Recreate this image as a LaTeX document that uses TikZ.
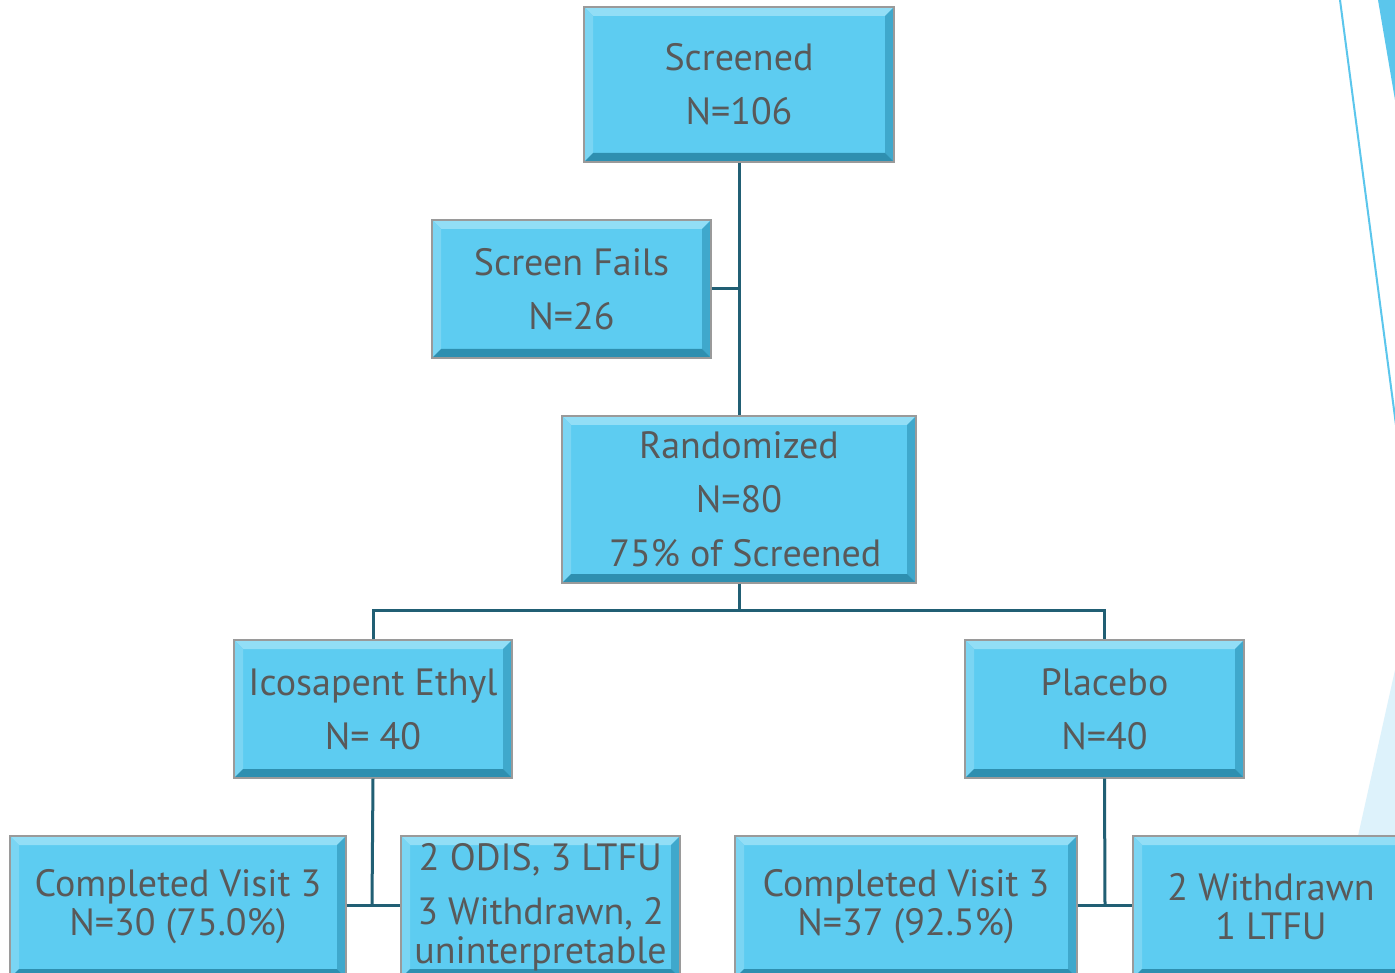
\documentclass[tikz,border=0pt]{standalone}
\usepackage{fontspec}
\setmainfont{PT Sans}
\definecolor{boxfill}{HTML}{5DCCF1}
\definecolor{bevT}{HTML}{92DEF6}
\definecolor{bevL}{HTML}{7AD5F3}
\definecolor{bevR}{HTML}{3FA8CC}
\definecolor{bevB}{HTML}{2E8FB0}
\definecolor{boxedge}{HTML}{9A9A9A}
\definecolor{txtgrey}{HTML}{595959}
\definecolor{conn}{HTML}{215F74}
\definecolor{deco}{HTML}{5BC6EC}
\definecolor{decopale}{HTML}{DDF2FB}
\newcommand\bvw{9pt}
\tikzset{
  bevbox/.style={draw=boxedge, line width=1.2pt, fill=boxfill, text=txtgrey,
    align=center, inner sep=0pt, anchor=center,
    font=\fontsize{38}{54}\selectfont,
    path picture={
      \fill[bevT] (path picture bounding box.north west) -- (path picture bounding box.north east)
        -- ([shift={(-\bvw,-\bvw)}]path picture bounding box.north east)
        -- ([shift={(\bvw,-\bvw)}]path picture bounding box.north west) -- cycle;
      \fill[bevL] (path picture bounding box.north west) -- ([shift={(\bvw,-\bvw)}]path picture bounding box.north west)
        -- ([shift={(\bvw,\bvw)}]path picture bounding box.south west)
        -- (path picture bounding box.south west) -- cycle;
      \fill[bevR] (path picture bounding box.north east) -- ([shift={(-\bvw,-\bvw)}]path picture bounding box.north east)
        -- ([shift={(-\bvw,\bvw)}]path picture bounding box.south east)
        -- (path picture bounding box.south east) -- cycle;
      \fill[bevB] (path picture bounding box.south west) -- (path picture bounding box.south east)
        -- ([shift={(-\bvw,\bvw)}]path picture bounding box.south east)
        -- ([shift={(\bvw,\bvw)}]path picture bounding box.south west) -- cycle;
    }},
  tight/.style={font=\fontsize{38}{39}\selectfont},
  link/.style={draw=conn, line width=3pt}
}
\begin{document}
\begin{tikzpicture}[x=1pt,y=-1pt]
\useasboundingbox (0,0) rectangle (1395,973);
\clip (0,0) rectangle (1395,973);
\fill[white] (0,0) rectangle (1395,973);
% decoration on the right
\fill[decopale] (1358,836) -- (1395,670) -- (1395,836) -- cycle;
\fill[deco] (1378,0) -- (1395,0) -- (1395,100) -- cycle;
\draw[deco, line width=2pt] (1340,0) -- (1396,425);
% boxes
\node[bevbox, minimum width=310, minimum height=155] (scr) at (739,84.5) {Screened\\N=106};
\node[bevbox, minimum width=279, minimum height=138] (sf) at (571.5,289) {Screen Fails\\N=26};
\node[bevbox, minimum width=354, minimum height=167] (rnd) at (739,499.5) {Randomized\\N=80\\\,\,75\% of Screened};
\node[bevbox, minimum width=278, minimum height=138] (ice) at (373,709) {Icosapent Ethyl\\N= 40};
\node[bevbox, minimum width=279, minimum height=138] (pla) at (1104.5,709) {Placebo\\N=40};
\node[bevbox, tight, minimum width=336, minimum height=142] (cl) at (178,907) {Completed Visit 3\\N=30 (75.0\%)};
\node[bevbox, tight, minimum width=279, minimum height=142] (od) at (540.5,907) {2 ODIS, 3 LTFU\\[15pt]3 Withdrawn, 2\\uninterpretable};
\node[bevbox, tight, minimum width=342, minimum height=142] (cr) at (906,907) {Completed Visit 3\\N=37 (92.5\%)};
\node[bevbox, tight, minimum width=276, minimum height=142] (wd) at (1271,907) {2 Withdrawn\\1 LTFU};
% connectors
\coordinate (j1) at (739,610);
\coordinate (j2) at (372,905);
\coordinate (j3) at (1105,905);
\draw[link] (scr.south) -- (rnd.north);
\draw[link] (sf.east) -- (sf.east -| scr.south);
\draw[link] (rnd.south) -- (j1);
\draw[link] (ice.north) -- (ice.north |- j1) -- (pla.north |- j1) -- (pla.north);
\draw[link] (ice.south) -- (j2);
\draw[link] (cl.east |- j2) -- (od.west |- j2);
\draw[link] (pla.south) -- (j3);
\draw[link] (cr.east |- j3) -- (wd.west |- j3);
\end{tikzpicture}
\end{document}
